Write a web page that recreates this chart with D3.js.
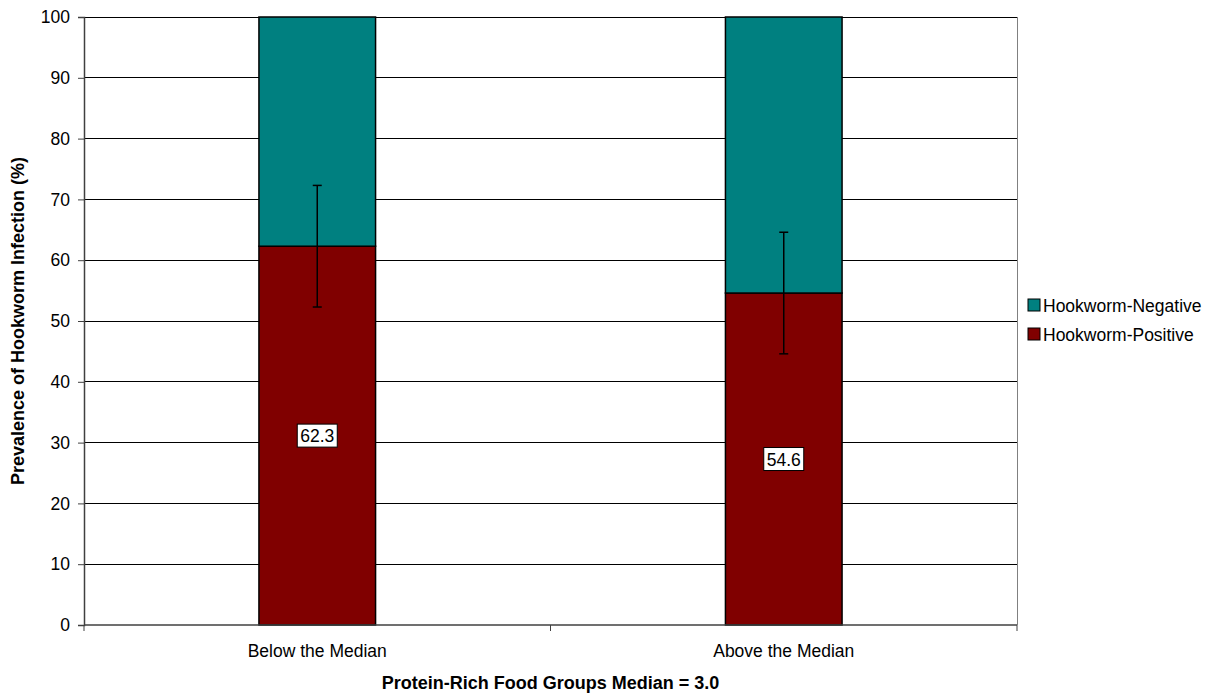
<!DOCTYPE html>
<html><head><meta charset="utf-8">
<script src="https://cdn.jsdelivr.net/npm/d3@7/dist/d3.min.js"></script>
<style>body{margin:0;background:#fff}svg{display:block;font-family:"Liberation Sans",Arial,sans-serif}</style>
</head><body><svg id="c" width="1219" height="695"></svg>
<script>
const categories = ["Below the Median", "Above the Median"];
const positive = [62.3, 54.6];
const negative = [37.7, 45.4];
const errLow = [52.3, 44.6];
const errHigh = [72.3, 64.6];
const yTicks = [0,10,20,30,40,50,60,70,80,90,100];
const seriesNames = ["Hookworm-Negative", "Hookworm-Positive"];
const colors = {pos:"#800000", neg:"#008080"};

const svg = d3.select("#c");
const L=84, R=1017, T=17, B=625;
const FS = 17.5, TFS = 18;
const x = d3.scaleBand().domain(categories).range([L,R]).paddingInner(0).paddingOuter(0);
const y = d3.scaleLinear().domain([0,100]).range([B,T]);
const bw = x.bandwidth()*0.25;

// gridlines
svg.append("g").selectAll("line").data(yTicks.filter(d=>d>0)).join("line")
  .attr("x1",L).attr("x2",R).attr("y1",d=>y(d)).attr("y2",d=>y(d))
  .attr("stroke","#000").attr("stroke-width",1).attr("shape-rendering","crispEdges");
// right border
svg.append("line").attr("x1",R).attr("x2",R).attr("y1",T).attr("y2",B)
  .attr("stroke","#808080").attr("shape-rendering","crispEdges");

// bars
const g = svg.append("g");
categories.forEach((c,i)=>{
  const cx = x(c)+x.bandwidth()/2;
  g.append("rect").attr("x",cx-bw/2).attr("width",bw)
    .attr("y",y(positive[i])).attr("height",y(0)-y(positive[i]))
    .attr("fill",colors.pos).attr("stroke","#000").attr("stroke-width",1.5);
  g.append("rect").attr("x",cx-bw/2).attr("width",bw)
    .attr("y",y(positive[i]+negative[i])).attr("height",y(positive[i])-y(positive[i]+negative[i]))
    .attr("fill",colors.neg).attr("stroke","#000").attr("stroke-width",1.5);
  // error bar
  g.append("line").attr("x1",cx).attr("x2",cx).attr("y1",y(errLow[i])).attr("y2",y(errHigh[i]))
    .attr("stroke","#000").attr("stroke-width",1.5);
  [errLow[i],errHigh[i]].forEach(v=>{
    g.append("line").attr("x1",cx-4.5).attr("x2",cx+4.5).attr("y1",y(v)).attr("y2",y(v))
      .attr("stroke","#000").attr("stroke-width",1.5);
  });
  // label
  const ly = y(positive[i]/2);
  g.append("rect").attr("x",cx-20).attr("y",ly-11.5).attr("width",40).attr("height",23)
    .attr("fill","#fff").attr("stroke","#000").attr("stroke-width",1);
  g.append("text").attr("x",cx).attr("y",ly+6.5).attr("text-anchor","middle")
    .attr("font-size",FS).text(positive[i].toFixed(1));
});

// y axis
const ya = svg.append("g").attr("transform",`translate(${L},0)`)
  .call(d3.axisLeft(y).tickValues(yTicks).tickSize(6).tickPadding(8));
ya.select(".domain").attr("stroke","#404040").attr("stroke-width",1.5);
ya.selectAll(".tick line").attr("stroke","#404040");
ya.selectAll("text").attr("font-size",FS).attr("font-family","'Liberation Sans',Arial,sans-serif").attr("fill","#000");

// x axis
const xa = svg.append("g").attr("transform",`translate(0,${B})`);
xa.append("line").attr("x1",L).attr("x2",R).attr("stroke","#404040").attr("stroke-width",1.5);
const bounds = [L, ...categories.map(c=>x(c)+x.bandwidth())];
xa.selectAll(".tk").data(bounds).join("line").attr("class","tk")
  .attr("x1",d=>d).attr("x2",d=>d).attr("y1",0).attr("y2",6).attr("stroke","#404040");
xa.selectAll(".lbl").data(categories).join("text").attr("class","lbl")
  .attr("x",d=>x(d)+x.bandwidth()/2).attr("y",32).attr("text-anchor","middle")
  .attr("font-size",FS).text(d=>d);

// titles
svg.append("text").attr("x",(L+R)/2).attr("y",689).attr("text-anchor","middle")
  .attr("font-size",TFS).attr("font-weight","bold").text("Protein-Rich Food Groups Median = 3.0");
svg.append("text").attr("transform",`translate(24,${(T+B)/2}) rotate(-90)`).attr("text-anchor","middle")
  .attr("font-size",TFS).attr("font-weight","bold").text("Prevalence of Hookworm Infection (%)");

// legend
const leg = svg.append("g");
const legColors = [colors.neg, colors.pos];
seriesNames.forEach((n,i)=>{
  const yy = 305 + i*29;
  leg.append("rect").attr("x",1028).attr("y",yy-6).attr("width",12).attr("height",12)
    .attr("fill",legColors[i]).attr("stroke","#000").attr("stroke-width",1);
  leg.append("text").attr("x",1043).attr("y",yy+6.5).attr("font-size",FS).text(n);
});
</script></body></html>
